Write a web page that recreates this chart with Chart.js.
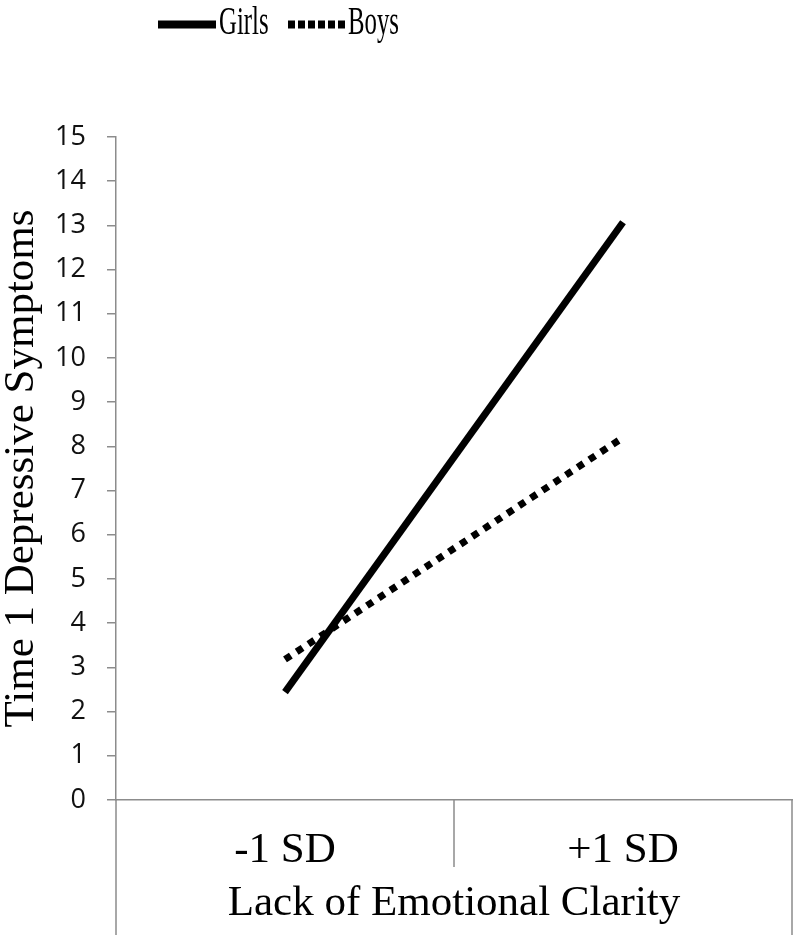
<!DOCTYPE html>
<html>
<head>
<meta charset="utf-8">
<script src="https://cdn.jsdelivr.net/npm/chart.js@4/dist/chart.umd.min.js"></script>
<style>
  html, body { margin: 0; padding: 0; background: #fff; }
  #wrap { width: 800px; height: 939px; position: relative; }
</style>
</head>
<body>
<div id="wrap"><canvas id="c" width="800" height="939"></canvas></div>
<script>
const categories = ['-1 SD', '+1 SD'];
const girls = [2.44, 13.07];
const boys = [3.18, 8.2];
const seriesNames = ['Girls', 'Boys'];
const yTitle = 'Time 1 Depressive Symptoms';
const xTitle = 'Lack of Emotional Clarity';

const AXIS = '#8c8c8c';
const SERIF = '"Liberation Serif", "Times New Roman", serif';

const boxLines = {
  id: 'boxLines',
  afterDraw(chart) {
    const x = chart.scales.x, ctx = chart.ctx;
    const half = (x.getPixelForValue(1) - x.getPixelForValue(0)) / 2;
    const mid = x.getPixelForValue(0) + half;
    const top = chart.chartArea.bottom;
    ctx.save();
    ctx.strokeStyle = AXIS;
    ctx.lineWidth = 1.5;
    ctx.beginPath();
    ctx.moveTo(x.left, top); ctx.lineTo(x.left, top + 135);
    ctx.moveTo(x.right, top); ctx.lineTo(x.right, top + 135);
    ctx.moveTo(mid, top); ctx.lineTo(mid, top + 67);
    ctx.stroke();
    ctx.restore();
  }
};

const customLegend = {
  id: 'customLegend',
  afterDraw(chart) {
    const ctx = chart.ctx;
    const items = [
      { x0: 158, x1: 216, tx: 219, dash: [], label: chart.data.datasets[0].label },
      { x0: 288, x1: 346, tx: 348, dash: [7, 3], label: chart.data.datasets[1].label }
    ];
    ctx.save();
    items.forEach(it => {
      ctx.strokeStyle = '#000';
      ctx.lineWidth = 8;
      ctx.lineCap = 'butt';
      ctx.setLineDash(it.dash);
      ctx.beginPath();
      ctx.moveTo(it.x0, 24.5); ctx.lineTo(it.x1, 24.5);
      ctx.stroke();
      ctx.setLineDash([]);
      ctx.save();
      ctx.translate(it.tx, 34);
      ctx.scale(0.62, 1);
      ctx.font = '40px ' + SERIF;
      ctx.fillStyle = '#000';
      ctx.textBaseline = 'alphabetic';
      ctx.textAlign = 'left';
      ctx.fillText(it.label, 0, 0);
      ctx.restore();
    });
    ctx.restore();
  }
};

new Chart(document.getElementById('c'), {
  type: 'line',
  data: {
    labels: categories,
    datasets: [
      { label: seriesNames[0], data: girls, borderColor: '#000', borderWidth: 7,
        pointRadius: 0, tension: 0, borderCapStyle: 'butt', fill: false },
      { label: seriesNames[1], data: boys, borderColor: '#000', borderWidth: 7,
        borderDash: [7, 7], pointRadius: 0, tension: 0, borderCapStyle: 'butt', fill: false }
    ]
  },
  options: {
    responsive: false,
    animation: false,
    devicePixelRatio: 1,
    layout: { padding: { top: 137, right: 8, left: 0, bottom: 0 } },
    plugins: { legend: { display: false }, tooltip: { enabled: false } },
    scales: {
      x: {
        type: 'category',
        offset: true,
        afterFit(s) { s.height = 139; },
        grid: { display: false, offset: true },
        border: { display: true, color: AXIS, width: 1.5 },
        ticks: { color: '#000', font: { family: SERIF, size: 43, lineHeight: 1.2 }, padding: 17, maxRotation: 0 },
        title: { display: true, text: xTitle, color: '#000',
                 font: { family: SERIF, size: 43, lineHeight: 1.2 }, padding: { top: 0, bottom: 9 } }
      },
      y: {
        min: 0, max: 15,
        afterFit(s) { s.width = 116; },
        grid: { drawOnChartArea: false, drawTicks: true, tickLength: 9, color: AXIS, lineWidth: 1.5 },
        border: { display: true, color: AXIS, width: 1.5 },
        ticks: { stepSize: 1, color: '#111', padding: 21,
                 font: { family: '"Open Sans", "Noto Sans", sans-serif', size: 27 } },
        title: { display: true, text: yTitle, color: '#000',
                 font: { family: SERIF, size: 43, lineHeight: 1 }, padding: { top: 0, bottom: 0 } }
      }
    }
  },
  plugins: [boxLines, customLegend]
});
</script>
</body>
</html>
